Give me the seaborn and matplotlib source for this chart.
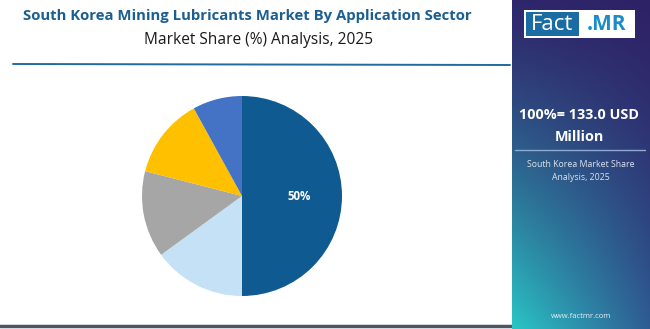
import numpy as np
import matplotlib
matplotlib.use("Agg")
import matplotlib.pyplot as plt
import seaborn as sns
from matplotlib.patches import Rectangle

sns.set_theme(style="white")
plt.rcParams['font.family'] = ['Open Sans', 'DejaVu Sans']

# Data
sectors = ["Segment A", "Segment B", "Segment C", "Segment D", "Segment E"]
shares = [50, 15, 14, 13, 8]
colors = ["#0E5A91", "#C5E1F5", "#A6A6A6", "#FFC000", "#4472C4"]
shown_labels = ["50%", "", "", "", ""]

title = "South Korea Mining Lubricants Market By Application Sector"
subtitle = "Market Share (%) Analysis, 2025"
total_text = "100%= 133.0 USD\nMillion"
panel_text = "South Korea Market Share\nAnalysis, 2025"
site = "www.factmr.com"

W, H = 650, 329
fig = plt.figure(figsize=(W / 100, H / 100), dpi=100)
fig.patch.set_facecolor("white")

def px(x0, y0, w, h):
    return [x0 / W, (H - y0 - h) / H, w / W, h / H]

# Background overlay axes
bg = fig.add_axes([0, 0, 1, 1])
bg.set_xlim(0, W)
bg.set_ylim(H, 0)
bg.axis("off")

# Title texts
bg.text(247, 16, title, ha="center", va="center", fontsize=10.7, fontweight="bold", color="#1B5E91")
bg.text(259, 40, subtitle, ha="center", va="center", fontsize=11.2, color="#1a1a1a")
bg.plot([13, 510], [64, 65], color="#1F6C9E", lw=1.4)
bg.plot([0, 512], [326, 326], color="#4A5866", lw=2.5)

# Right panel gradient
pax = fig.add_axes(px(512, 0, 138, 329))
ny, nx = 200, 100
yy, xx = np.mgrid[0:1:ny * 1j, 0:1:nx * 1j]
tl = np.array([0x2F, 0x27, 0x6C]) / 255
tr = np.array([0x2E, 0x22, 0x66]) / 255
bl = np.array([0x2A, 0xC6, 0xC6]) / 255
br = np.array([0x2F, 0x5C, 0x93]) / 255
yy2 = yy ** 1.3
img = ((1 - xx)[..., None] * (1 - yy2)[..., None] * tl + xx[..., None] * (1 - yy2)[..., None] * tr
       + (1 - xx)[..., None] * yy2[..., None] * bl + xx[..., None] * yy2[..., None] * br)
pax.imshow(img, aspect="auto", extent=[0, 138, 329, 0])
pax.set_xlim(0, 138)
pax.set_ylim(329, 0)
pax.axis("off")

# Logo
pax.add_patch(Rectangle((12, 10), 111, 28, facecolor="white", edgecolor="none"))
pax.add_patch(Rectangle((14, 12), 53, 24, facecolor="#1A6CA3", edgecolor="none"))
pax.text(40, 24.5, "Fact", ha="center", va="center", fontsize=16, color="white")
pax.text(95, 24.5, ".MR", ha="center", va="center", fontsize=15, fontweight="bold", color="#1A8CC7")

pax.text(67, 126, total_text, ha="center", va="center", fontsize=10.4, fontweight="bold",
         color="white", linespacing=1.65)
pax.plot([3, 133], [150, 150], color="#8FA9D0", lw=1)
pax.text(69, 171, panel_text, ha="center", va="center", fontsize=6.3, color="#DDE3F0", linespacing=1.5)
pax.text(69, 316, site, ha="center", va="center", fontsize=5.5, color="#E8F0F5")

# Pie
ax = fig.add_axes(px(142, 96, 200, 200))
wedges, _ = ax.pie(shares, colors=colors, startangle=90, counterclock=False, radius=1,
                   wedgeprops=dict(linewidth=0))
ang = np.deg2rad(90 - shares[0] / 100 * 360 / 2)
ax.text(0.57 * np.cos(ang), 0.57 * np.sin(ang), shown_labels[0], ha="center", va="center",
        fontsize=8.3, fontweight="bold", color="white")
ax.set_xlim(-1, 1)
ax.set_ylim(-1, 1)
ax.set_aspect("equal")
ax.axis("off")

fig.savefig("out.png", dpi=100)
